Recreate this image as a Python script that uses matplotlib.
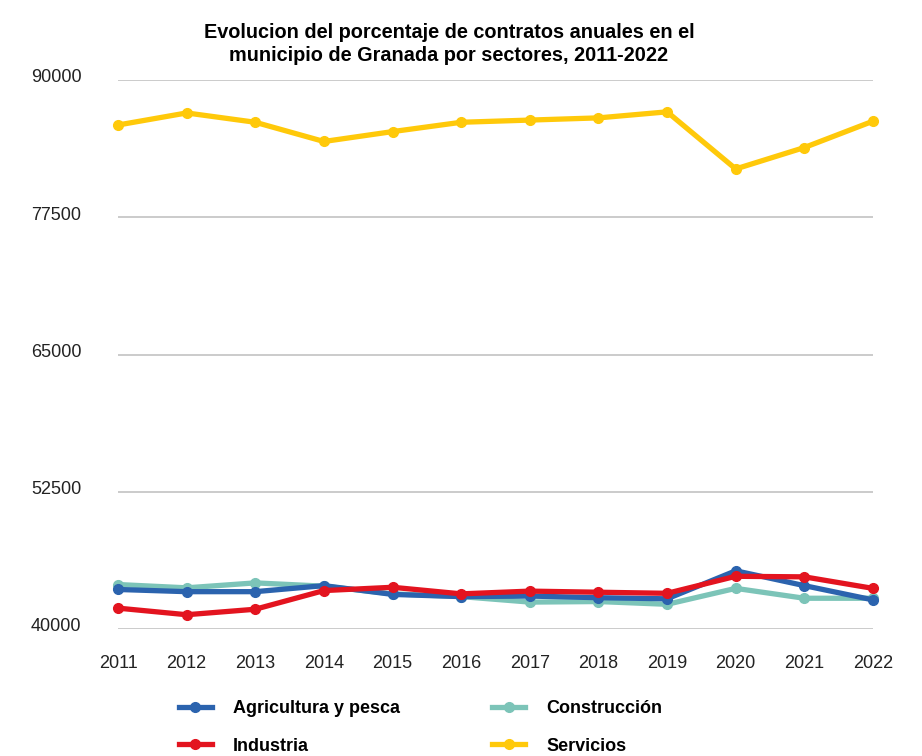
import matplotlib
matplotlib.use("Agg")
from matplotlib import pyplot as plt
from matplotlib.lines import Line2D

plt.rcParams['font.family'] = ['Liberation Sans', 'DejaVu Sans']

years = [2011, 2012, 2013, 2014, 2015, 2016, 2017, 2018, 2019, 2020, 2021, 2022]
agricultura = [43600, 43400, 43400, 43950, 43150, 42950, 43000, 42850, 42750, 45300, 43950, 42650]
construccion = [44050, 43750, 44200, 43900, 43200, 42950, 42450, 42500, 42250, 43700, 42800, 42800]
industria = [41900, 41300, 41800, 43500, 43800, 43200, 43450, 43350, 43250, 44800, 44750, 43700]
servicios = [85900, 87000, 86150, 84400, 85300, 86150, 86350, 86550, 87100, 81900, 83850, 86250]

yticks = [40000, 52500, 65000, 77500, 90000]

series = [
    ("Agricultura y pesca", agricultura, "#2b63ae"),
    ("Construcción", construccion, "#7cc4b8"),
    ("Industria", industria, "#e3141f"),
    ("Servicios", servicios, "#ffc90a"),
]

fig = plt.figure(figsize=(9.22, 7.56), dpi=100)
ax = fig.add_axes([118 / 922, 1 - 629 / 756, (873 - 118) / 922, (629 - 80) / 756])

# draw order: servicios, construccion, agricultura, industria on top
order = [3, 1, 0, 2]
for i in order:
    name, vals, col = series[i]
    ax.plot(years, vals, color=col, lw=3.8, marker='o', ms=7, mec=col,
            solid_joinstyle='round', clip_on=False, zorder=3 + order.index(i))

ax.set_xlim(2011, 2022)
ax.set_ylim(40000, 90000)
ax.set_yticks(yticks)
ax.set_yticklabels([])
ax.set_xticks(years)
ax.set_xticklabels([str(y) for y in years], fontsize=13, color='#222222')
ax.tick_params(axis='x', length=0, pad=19)
ax.tick_params(axis='y', length=0)
ax.grid(axis='y', color='#bdbdbd', lw=1.1)
ax.grid(axis='x', visible=False)
for s in ax.spines.values():
    s.set_visible(False)

for v in yticks:
    ax.annotate(str(v), xy=(31 / 922, v), xycoords=('figure fraction', 'data'),
                xytext=(0, 1.5), textcoords='offset points', ha='left', va='center',
                fontsize=13, color='#222222')

fig.text(449 / 922, 1 - 44 / 756, "Evolucion del porcentaje de contratos anuales en el\nmunicipio de Granada por sectores, 2011-2022",
         ha='center', va='center', fontsize=14.3, fontweight='bold', linespacing=1.22)

# legend filled column by column -> reorder so rows read Agricultura/Construccion, Industria/Servicios
leg_idx = [0, 2, 1, 3]
handles = [Line2D([], [], color=series[i][2], lw=3.8, marker='o', ms=7) for i in leg_idx]
labels = [series[i][0] for i in leg_idx]
leg = fig.legend(handles, labels, ncol=2, loc='upper left', bbox_to_anchor=(179 / 922, 1 - 700 / 756),
                 frameon=False, handlelength=1.8, handletextpad=1.2, columnspacing=5.1,
                 labelspacing=1.15, borderpad=0, borderaxespad=0,
                 prop={'weight': 'bold', 'size': 13})

fig.savefig("out.png", dpi=100)
